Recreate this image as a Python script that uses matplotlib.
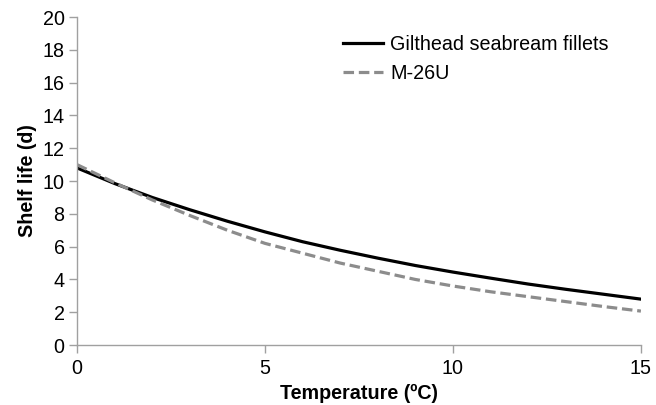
import numpy as np
import matplotlib.pyplot as plt

plt.rcParams['font.family'] = ['Liberation Sans', 'DejaVu Sans']

# values, one per degree
temperature = [0, 1, 2, 3, 4, 5, 6, 7, 8, 9, 10, 11, 12, 13, 14, 15]
fillets = [10.8, 9.85, 9.0, 8.25, 7.55, 6.9, 6.3, 5.78, 5.3, 4.85,
           4.45, 4.08, 3.72, 3.4, 3.1, 2.8]
m26u = [11.0, 9.9, 8.85, 7.9, 7.0, 6.2, 5.6, 5.0, 4.5, 4.0,
        3.6, 3.25, 2.95, 2.65, 2.35, 2.07]

xticks = [0, 5, 10, 15]
yticks = list(range(0, 21, 2))

fs = 14.2
fig = plt.figure(figsize=(6.56, 4.05), dpi=100)
ax = fig.add_axes([0.1174, 0.148, 0.8596, 0.81])

ax.plot(temperature, fillets, color='black', lw=2.3, label='Gilthead seabream fillets')
ax.plot(temperature, m26u, color='#8c8c8c', lw=2.3, dashes=(3.3, 1.5), label='M-26U')

ax.set_xlim(0, 15)
ax.set_ylim(0, 20)
ax.set_xticks(xticks)
ax.set_yticks(yticks)

for s in ['top', 'right']:
    ax.spines[s].set_visible(False)
for s in ['left', 'bottom']:
    ax.spines[s].set_color('#a0a0a0')
    ax.spines[s].set_linewidth(1)
ax.tick_params(colors='#a0a0a0', labelcolor='black', labelsize=fs, length=6, width=1)
ax.tick_params(axis='x', pad=4)
ax.tick_params(axis='y', pad=3)

ax.set_xlabel('Temperature (ºC)', fontsize=fs, fontweight='bold', labelpad=4)
ax.set_ylabel('Shelf life (d)', fontsize=fs, fontweight='bold', labelpad=4)

ax.legend(loc='upper left', bbox_to_anchor=(343 / 656, 1 - 35 / 405),
          bbox_transform=fig.transFigure, frameon=False, borderpad=0,
          borderaxespad=0, fontsize=fs, handlelength=2.05,
          handletextpad=0.35, labelspacing=0.5)

fig.savefig('out.png', dpi=100)
